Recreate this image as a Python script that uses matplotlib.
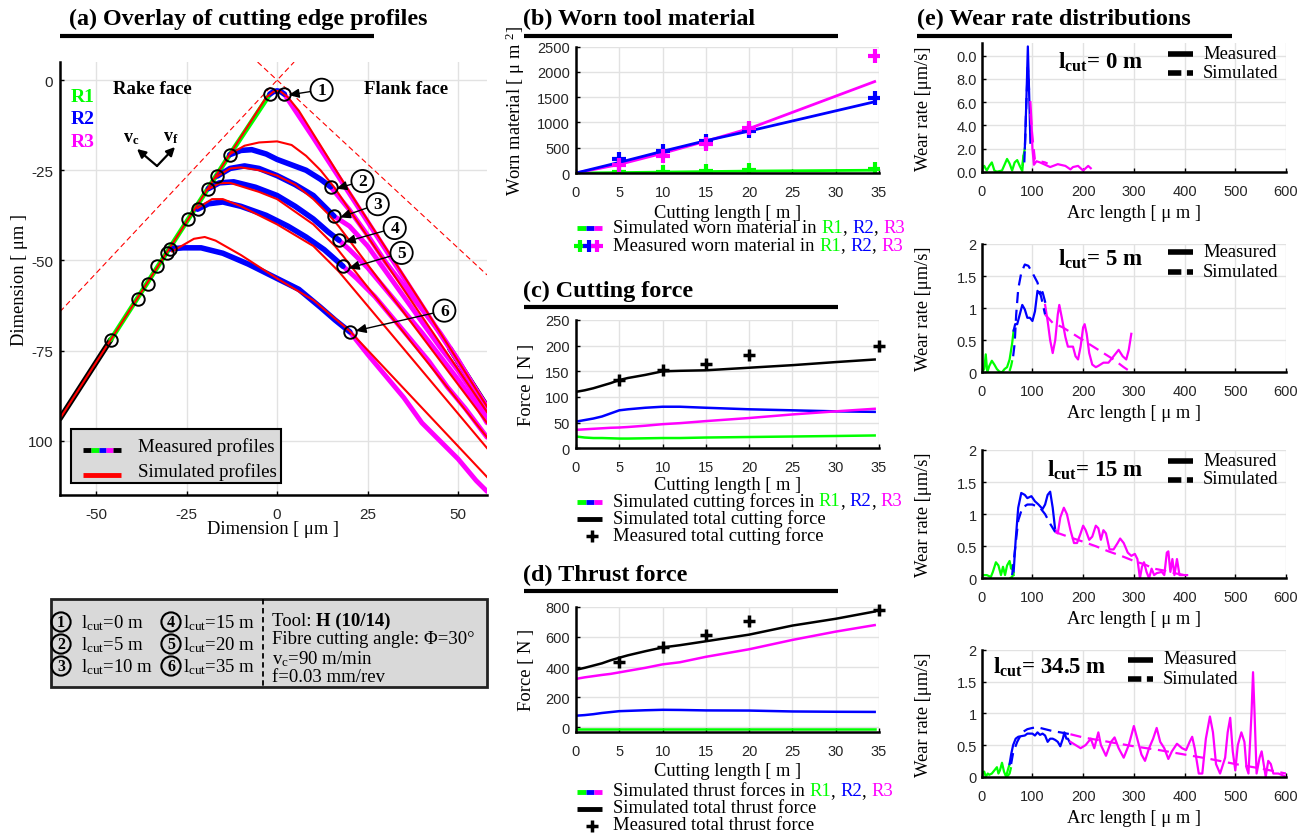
import matplotlib
matplotlib.use('Agg')
import matplotlib.pyplot as plt
from matplotlib.patches import Rectangle

W, H = 1309, 837
SERIF = 'Liberation Serif'
SANS = 'Liberation Sans'
plt.rcParams['font.family'] = SANS
plt.rcParams['axes.unicode_minus'] = False
plt.rcParams['mathtext.fontset'] = 'custom'
plt.rcParams['mathtext.rm'] = SERIF
plt.rcParams['mathtext.it'] = SERIF + ':italic'
plt.rcParams['mathtext.bf'] = SERIF + ':bold'
plt.rcParams['mathtext.default'] = 'regular'

GREEN, BLUE, MAG, RED = '#00ff00', '#0000ff', '#ff00ff', '#ff0000'

# ---------------- (a) profile data [um] ----------------
ref_left_x, ref_left_y = [-60, 4.7], [-64.2, 5]
ref_right_x, ref_right_y = [-5.4, 58], [5, -54]
rake_black_x, rake_black_y = [-60, -46], [-93.8, -72]
rake_green_x, rake_green_y = [-46, -24.6, -13.1, -2], [-72, -38.6, -20.7, -3.9]
flank_black_x, flank_black_y = [48, 58], [-74.8, -90.5]

m1_x, m1_y = [-2, -1, 0, 1, 2], [-3.9, -3.2, -3.0, -3.2, -3.9]
m2_x = [-13.1, -10, -7, -3, 0, 4, 8, 12, 14.8]
m2_y = [-20.7, -19.5, -19.3, -20.5, -22, -23.5, -25, -27.5, -29.6]
m3_x = [-16.5, -13, -9, -5, 0, 5, 10, 13, 15.7]
m3_y = [-26.6, -24.5, -23.8, -24.5, -26.5, -29, -32, -35, -37.7]
m4_x = [-19, -16, -12, -6, 0, 5, 10, 14, 17.1]
m4_y = [-30.1, -28.5, -28.2, -29.7, -32, -35, -38.5, -42, -44.4]
m5_x = [-22, -19, -15, -10, -3, 3, 8, 13, 18.2]
m5_y = [-35.8, -34.3, -33.8, -35, -37.5, -40.5, -43.5, -47, -51.6]
m6_x = [-29.5, -26, -21, -15, -8, 0, 6, 12, 16, 20.1]
m6_y = [-46.8, -46.5, -46.5, -48, -51, -55, -58, -63, -66.5, -69.8]

f1_x = [2, 10, 20, 30, 40, 50, 58]
f1_y = [-3.9, -16, -31.5, -47, -62.5, -78, -90.5]
f2_x = [14.8, 20, 25, 30, 35, 40, 45, 50, 55, 58]
f2_y = [-29.6, -36, -43, -50.5, -57, -63.5, -70, -77.5, -86, -91]
f3_x = [15.7, 20, 25, 30, 35, 40, 45, 50, 55, 58]
f3_y = [-37.7, -40.5, -46, -53, -60, -67, -74, -80.5, -88, -93]
f4_x = [17.1, 20, 25, 30, 35, 40, 45, 50, 55, 58]
f4_y = [-44.4, -47, -52, -58, -64, -70, -76.5, -83, -90, -95]
f5_x = [18.2, 22, 27, 32, 37, 42, 47, 52, 55, 58]
f5_y = [-51.6, -55, -60, -66, -72, -78, -85, -91, -95, -99]
f6_x = [20.1, 25, 30, 35, 40, 45, 50, 55, 58]
f6_y = [-69.8, -76, -82, -88, -95, -100, -105, -111, -114]

s1_x = [-60, -46, -24.6, -6, -3, -1, 0, 1, 3, 6, 20, 40, 58]
s1_y = [-93.8, -72, -38.6, -9.5, -4.8, -3.2, -3, -3.2, -4.8, -8.5, -31, -62, -90.5]
s2_x = [-13, -9, -5, 0, 4, 8, 12, 16, 20, 58]
s2_y = [-20.5, -18.2, -17.3, -17, -18, -21, -25, -30, -36, -92]
s3_x = [-17, -13, -10, -5, 0, 5, 10, 14, 17, 58]
s3_y = [-27, -24.5, -24.2, -25, -26.5, -29, -33, -37, -40.5, -95]
s4_x = [-19.5, -16, -13, -5, 0, 10, 16, 58]
s4_y = [-30.5, -28.6, -28.5, -31, -33, -40, -46, -99]
s5_x = [-22, -18, -15, -10, 0, 10, 17, 58]
s5_y = [-35.5, -33, -33, -35, -40, -46, -53, -102]
s6_x = [-29, -23, -20, -17, -10, 0, 10, 20, 58]
s6_y = [-47.5, -44, -43.5, -44.5, -48.5, -55, -61, -69.5, -110]

circ_x = [-2, 2, -13.1, 14.8, -16.5, 15.7, -19, 17.1, -22, 18.2, -29.5, 20.1,
          -46, -38.5, -35.7, -33.3, -30.5, -24.6]
circ_y = [-3.9, -3.9, -20.7, -29.6, -26.6, -37.7, -30.1, -44.4, -35.8, -51.6, -46.8, -69.8,
          -72, -60.6, -56.4, -51.6, -47.9, -38.6]

stage_labels = ['1', '2', '3', '4', '5', '6']
stage_pt_x = [2.8, 16.0, 17.0, 18.3, 19.4, 21.3]
stage_pt_y = [-4.2, -30.2, -38.2, -45.0, -52.3, -69.6]

# ---------------- (b) worn material ----------------
cut_len_sim = [0, 5, 10, 15, 20, 34.5]
worn_sim_r1 = [0, 8, 18, 28, 38, 55]
worn_sim_r2 = [0, 210, 430, 640, 830, 1410]
worn_sim_r3 = [0, 170, 390, 630, 880, 1810]
cut_len_meas = [5, 10, 15, 20, 34.5]
worn_meas_r1 = [10, 28, 42, 50, 85]
worn_meas_r2 = [285, 440, 635, 840, 1480]
worn_meas_r3 = [150, 335, 580, 895, 2310]

# ---------------- (c) cutting force ----------------
force_len = [0, 1, 2, 3, 4, 5, 6, 8, 10, 12, 15, 20, 25, 30, 34.5]
fc_total = [110, 113, 117, 122, 127, 133, 137, 143, 150, 151, 152, 157, 162, 168, 173]
fc_r1 = [23, 21, 20, 20, 19.5, 19, 19, 19.5, 20, 20, 21, 22, 23, 24, 25]
fc_r2 = [52, 55, 58, 62, 68, 74, 76, 79, 81, 81, 79, 76, 74, 72, 71]
fc_r3 = [36, 37, 38, 39, 40, 40.5, 41.5, 44, 47, 49, 53, 59, 66, 72, 77]
force_meas_len = [5, 10, 15, 20, 35]
fc_meas = [134, 152, 164, 181, 200]

# ---------------- (d) thrust force ----------------
ft_total = [382, 395, 410, 425, 445, 462, 478, 505, 530, 545, 571, 615, 675, 720, 768]
ft_r1 = [-8, -8, -8, -8, -8, -8, -8, -8, -8, -8, -8, -8, -8, -8, -8]
ft_r2 = [78, 82, 88, 96, 102, 108, 110, 114, 117, 116, 113, 112, 106, 104, 103]
ft_r3 = [322, 332, 340, 348, 355, 365, 375, 395, 418, 432, 468, 518, 580, 635, 678]
ft_meas = [431, 533, 611, 707, 778]

# ---------------- (e) wear rate distributions ----------------
e0_g_x = [0, 5, 10, 15, 20, 25, 30, 40, 45, 50, 55, 60, 65, 70, 75, 80, 83, 85]
e0_g_y = [0.2, 0.5, 0.1, 0.5, 0.8, 0.1, 0.0, 0.1, 0.6, 1.1, 0.7, 0.1, 0.8, 1.0, 0.5, 0.05, 1.5, 2.0]
e0_b_x = [85, 88, 91, 94, 96]
e0_b_y = [2.0, 6.0, 10.8, 6.0, 2.5]
e0_m_x = [96, 98, 100, 103, 108, 115, 125, 135, 150, 165, 175, 180, 190, 200, 210, 215]
e0_m_y = [6.0, 4.5, 2.0, 0.6, 0.9, 0.8, 0.6, 0.4, 0.65, 0.5, 0.2, 0.4, 0.5, 0.1, 0.5, 0.3]
e0_gd_x, e0_gd_y = [80, 84], [0.5, 2.0]
e0_bd_x, e0_bd_y = [84, 86, 88, 91, 94], [0.8, 3.0, 6.0, 9.0, 6.5]
e0_md_x = [96, 100, 105, 115, 125, 130]
e0_md_y = [5.0, 3.0, 1.0, 0.9, 0.8, 0.7]

e1_g_x = [0, 5, 8, 11, 15, 20, 25, 30, 35, 40, 45, 50, 55, 60, 63]
e1_g_y = [0, 0.05, 0.28, 0, 0.1, 0.18, 0.12, 0.05, 0.01, 0, 0.05, 0.08, 0.2, 0.45, 0.65]
e1_b_x = [63, 66, 70, 75, 80, 85, 90, 95, 100, 105, 110, 115, 120, 125]
e1_b_y = [0.65, 0.75, 0.75, 0.9, 1.05, 0.98, 0.85, 0.85, 0.8, 0.95, 1.27, 1.22, 1.25, 1.1]
e1_m_x = [125, 130, 135, 140, 145, 150, 153, 158, 165, 170, 180, 185, 190, 195, 200, 203, 207,
          212, 218, 225, 230, 240, 250, 260, 270, 278, 285, 290, 295]
e1_m_y = [1.05, 0.8, 0.5, 0.3, 0.5, 0.9, 1.05, 0.85, 0.55, 0.4, 0.4, 0.25, 0.2, 0.4, 0.7, 0.75, 0.6,
          0.3, 0.12, 0.08, 0.1, 0.15, 0.15, 0.25, 0.35, 0.25, 0.2, 0.35, 0.6]
e1_gd_x, e1_gd_y = [55, 58, 62], [0.02, 0.1, 0.25]
e1_bd_x = [62, 65, 68, 72, 78, 85, 92, 100, 110, 118, 125]
e1_bd_y = [0.25, 0.45, 0.9, 1.3, 1.55, 1.68, 1.66, 1.55, 1.4, 1.15, 0.9]
e1_md_x = [125, 140, 160, 180, 200, 220, 240, 260, 280, 295]
e1_md_y = [0.9, 0.77, 0.7, 0.6, 0.5, 0.4, 0.3, 0.2, 0.08, 0.0]

e2_g_x = [0, 10, 18, 22, 28, 33, 38, 42, 46, 50, 55, 58, 60, 63]
e2_g_y = [0.05, 0.05, 0.02, 0.1, 0.25, 0.2, 0.05, 0.18, 0.05, 0.2, 0.27, 0.15, 0.2, 0.05]
e2_b_x = [63, 67, 72, 78, 85, 90, 98, 105, 112, 120, 125, 130, 135, 140, 145]
e2_b_y = [0.1, 0.6, 1.1, 1.33, 1.3, 1.25, 1.28, 1.2, 1.15, 1.08, 1.15, 1.3, 1.35, 1.1, 0.75]
e2_m_x = [145, 150, 155, 162, 168, 175, 182, 188, 195, 200, 205, 212, 218, 225, 230, 235, 240,
          245, 252, 260, 268, 273, 280, 288, 295, 302, 307, 312, 316, 320, 325, 330, 335, 340,
          345, 355, 360, 365, 368, 372, 376, 380, 385, 390, 395, 405]
e2_m_y = [0.75, 0.7, 0.95, 1.1, 1.0, 0.75, 0.55, 0.55, 0.7, 0.82, 0.75, 0.6, 0.65, 0.82, 0.78, 0.6,
          0.75, 0.7, 0.45, 0.45, 0.55, 0.62, 0.55, 0.4, 0.35, 0.38, 0.3, 0.0, 0.18, 0.25, 0.1, 0.0,
          0.15, 0.05, 0.08, 0.1, 0.05, 0.4, 0.42, 0.1, 0.3, 0.05, 0.3, 0.05, 0.05, 0.05]
e2_gd_x, e2_gd_y = [55, 60, 63], [0.0, 0.02, 0.1]
e2_bd_x = [60, 65, 72, 80, 90, 100, 115, 125, 135, 145]
e2_bd_y = [0.05, 0.4, 0.9, 1.1, 1.15, 1.15, 1.1, 1.0, 0.85, 0.72]
e2_md_x = [145, 170, 200, 225, 250, 275, 300, 320, 340, 360, 380, 400]
e2_md_y = [0.72, 0.65, 0.57, 0.5, 0.42, 0.35, 0.27, 0.22, 0.15, 0.12, 0.08, 0.05]

e3_g_x = [0, 5, 8, 12, 15, 20, 25, 30, 33, 36, 40, 44, 48, 52, 55]
e3_g_y = [0.05, 0.08, 0.0, 0.05, 0.03, 0.05, 0.1, 0.15, 0.05, 0.1, 0.22, 0.08, 0.0, 0.12, 0.2]
e3_b_x = [55, 58, 62, 67, 72, 78, 85, 90, 100, 105, 110, 115, 120, 125, 130, 135, 140, 145,
          150, 155, 160, 163, 167, 170, 175]
e3_b_y = [0.2, 0.35, 0.5, 0.6, 0.63, 0.64, 0.65, 0.68, 0.68, 0.65, 0.7, 0.66, 0.68, 0.65, 0.55,
          0.6, 0.6, 0.58, 0.55, 0.48, 0.6, 0.7, 0.6, 0.6, 0.52]
e3_m_x = [175, 185, 195, 205, 215, 222, 230, 235, 245, 255, 262, 270, 280, 290, 300, 305, 315,
          322, 330, 338, 345, 352, 360, 368, 375, 385, 395, 403, 410, 415, 420, 428, 435, 442,
          450, 456, 462, 470, 480, 485, 490, 495, 500, 505, 512, 518, 522, 526, 532, 535, 538,
          542, 548, 552, 556, 560, 565, 570, 575, 585, 600]
e3_m_y = [0.55, 0.5, 0.45, 0.5, 0.6, 0.45, 0.7, 0.5, 0.33, 0.55, 0.62, 0.45, 0.3, 0.5, 0.8, 0.65,
          0.35, 0.25, 0.45, 0.6, 0.77, 0.55, 0.45, 0.28, 0.4, 0.52, 0.45, 0.42, 0.55, 0.63, 0.45,
          0.05, 0.05, 0.6, 0.95, 0.7, 0.2, 0.05, 0.3, 0.7, 0.93, 0.4, 0.1, 0.5, 0.7, 0.55, 0.15,
          0.05, 1.0, 1.65, 1.0, 0.05, 0.3, 0.4, 0.2, 0.0, 0.25, 0.2, 0.05, 0.05, 0.0]
e3_gd_x, e3_gd_y = [50, 55, 58], [0.0, 0.05, 0.15]
e3_bd_x = [58, 62, 70, 80, 90, 100, 110, 125, 140, 155, 175]
e3_bd_y = [0.2, 0.38, 0.55, 0.7, 0.75, 0.77, 0.78, 0.75, 0.72, 0.7, 0.67]
e3_md_x = [175, 200, 250, 300, 350, 400, 450, 500, 550, 600]
e3_md_y = [0.67, 0.62, 0.55, 0.48, 0.42, 0.35, 0.28, 0.2, 0.13, 0.05]

# ---------------- figure ----------------
fig = plt.figure(figsize=(W / 100, H / 100), dpi=100)


def px_axes(l, t, r, b):
    return fig.add_axes([l / W, 1 - b / H, (r - l) / W, (b - t) / H])


def style(ax):
    for s in ['top', 'right']:
        ax.spines[s].set_visible(False)
    for s in ['left', 'bottom']:
        ax.spines[s].set_linewidth(1.8)
        ax.spines[s].set_color('k')
    ax.grid(True, color='#e2e2e2', lw=1)
    ax.set_axisbelow(True)
    ax.tick_params(direction='in', length=3, width=1, labelsize=10.5, labelcolor='#262626')
    ax.tick_params(axis='x', pad=8.5)
    ax.tick_params(axis='y', pad=4.5)


# ---- (a)
ax_a = px_axes(60, 63, 487, 496)
style(ax_a)
ax_a.plot(ref_left_x, ref_left_y, color=RED, lw=0.8, dashes=(5, 3))
ax_a.plot(ref_right_x, ref_right_y, color=RED, lw=0.8, dashes=(5, 3))
ax_a.plot(rake_black_x, rake_black_y, color='k', lw=4, solid_capstyle='round')
ax_a.plot(flank_black_x, flank_black_y, color='k', lw=4)
for fx, fy in [(f1_x, f1_y), (f2_x, f2_y), (f3_x, f3_y), (f4_x, f4_y), (f5_x, f5_y), (f6_x, f6_y)]:
    ax_a.plot(fx, fy, color=MAG, lw=3.5, solid_capstyle='round')
ax_a.plot(rake_green_x, rake_green_y, color=GREEN, lw=3.5, solid_capstyle='round')
for mx, my in [(m1_x, m1_y), (m2_x, m2_y), (m3_x, m3_y), (m4_x, m4_y), (m5_x, m5_y), (m6_x, m6_y)]:
    ax_a.plot(mx, my, color=BLUE, lw=4, solid_capstyle='round')
for sx, sy in [(s1_x, s1_y), (s2_x, s2_y), (s3_x, s3_y), (s4_x, s4_y), (s5_x, s5_y), (s6_x, s6_y)]:
    ax_a.plot(sx, sy, color=RED, lw=1.5)
ax_a.plot(circ_x, circ_y, 'o', mfc='none', mec='k', ms=9, mew=1.4)
ax_a.set_xlim(-60, 58)
ax_a.set_ylim(-115, 5)
ax_a.set_xticks([-50, -25, 0, 25, 50])
ax_a.set_yticks([-100, -75, -50, -25, 0])
ax_a.set_yticklabels(['100', '-75', '-50', '-25', '0'])
ax_a.tick_params(labelsize=11)
ax_a.tick_params(axis='y', pad=5)

lab_off = [(9.5, 1.5), (7.6, 2.2), (10.8, 3.8), (14.2, 4.0), (15.0, 4.4), (24.9, 5.7)]
for lab, px_, py_, (dx, dy) in zip(stage_labels, stage_pt_x, stage_pt_y, lab_off):
    ax_a.annotate(lab, xy=(px_, py_), xytext=(px_ + dx, py_ + dy), ha='center', va='center',
                  fontsize=12.5, fontweight='bold', fontfamily=SERIF,
                  bbox=dict(boxstyle='circle,pad=0.18', fc='white', ec='k', lw=1.3),
                  arrowprops=dict(arrowstyle='-|>,head_length=0.5,head_width=0.22', color='k',
                                  lw=1.0, shrinkA=0, shrinkB=1))

# ---- (b)
ax_b = px_axes(576, 47.7, 879, 174)
style(ax_b)
ax_b.plot(cut_len_sim, worn_sim_r1, color=GREEN, lw=2)
ax_b.plot(cut_len_sim, worn_sim_r3, color=MAG, lw=2)
ax_b.plot(cut_len_sim, worn_sim_r2, color=BLUE, lw=2)
ax_b.plot(cut_len_meas, worn_meas_r1, '+', color=GREEN, ms=10, mew=3)
ax_b.plot(cut_len_meas, worn_meas_r2, '+', color=BLUE, ms=10, mew=3)
ax_b.plot(cut_len_meas, worn_meas_r3, '+', color=MAG, ms=10, mew=3)
ax_b.set_xlim(0, 35)
ax_b.set_ylim(0, 2500)
ax_b.set_xticks(range(0, 36, 5))
ax_b.set_yticks(range(0, 2501, 500))

# ---- (c)
ax_c = px_axes(576, 321, 879, 449.3)
style(ax_c)
ax_c.plot(force_len, fc_r1, color=GREEN, lw=1.8)
ax_c.plot(force_len, fc_r2, color=BLUE, lw=1.8)
ax_c.plot(force_len, fc_r3, color=MAG, lw=1.8)
ax_c.plot(force_len, fc_total, color='k', lw=1.8)
ax_c.plot(force_meas_len, fc_meas, '+', color='k', ms=9, mew=2.5, clip_on=False)
ax_c.set_xlim(0, 35)
ax_c.set_ylim(0, 250)
ax_c.set_xticks(range(0, 36, 5))
ax_c.set_yticks(range(0, 251, 50))

# ---- (d)
ax_d = px_axes(576, 607.7, 879, 733)
style(ax_d)
ax_d.plot(force_len, ft_r1, color=GREEN, lw=1.8)
ax_d.plot(force_len, ft_r2, color=BLUE, lw=1.8)
ax_d.plot(force_len, ft_r3, color=MAG, lw=1.8)
ax_d.plot(force_len, ft_total, color='k', lw=1.8)
ax_d.plot(force_meas_len, ft_meas, '+', color='k', ms=9, mew=2.5, clip_on=False)
ax_d.set_xlim(0, 35)
ax_d.set_ylim(-30, 800)
ax_d.set_xticks(range(0, 36, 5))
ax_d.set_yticks(range(0, 801, 200))

# ---- (e)
e_boxes = [(44.3, 172.7), (245, 373.3), (451, 579.3), (651, 777.7)]
e_data = [
    (e0_g_x, e0_g_y, e0_b_x, e0_b_y, e0_m_x, e0_m_y, e0_gd_x, e0_gd_y, e0_bd_x, e0_bd_y, e0_md_x, e0_md_y),
    (e1_g_x, e1_g_y, e1_b_x, e1_b_y, e1_m_x, e1_m_y, e1_gd_x, e1_gd_y, e1_bd_x, e1_bd_y, e1_md_x, e1_md_y),
    (e2_g_x, e2_g_y, e2_b_x, e2_b_y, e2_m_x, e2_m_y, e2_gd_x, e2_gd_y, e2_bd_x, e2_bd_y, e2_md_x, e2_md_y),
    (e3_g_x, e3_g_y, e3_b_x, e3_b_y, e3_m_x, e3_m_y, e3_gd_x, e3_gd_y, e3_bd_x, e3_bd_y, e3_md_x, e3_md_y),
]
e_axes = []
for i, ((t, b), d) in enumerate(zip(e_boxes, e_data)):
    ax = px_axes(981.7, t, 1286, b)
    style(ax)
    gx, gy, bx, by, mx, my, gdx, gdy, bdx, bdy, mdx, mdy = d
    ax.plot(gx, gy, color=GREEN, lw=1.6)
    ax.plot(bx, by, color=BLUE, lw=1.6)
    ax.plot(mx, my, color=MAG, lw=1.6)
    ax.plot(gdx, gdy, color=GREEN, lw=1.6, dashes=(5, 3))
    ax.plot(bdx, bdy, color=BLUE, lw=1.6, dashes=(5, 3))
    ax.plot(mdx, mdy, color=MAG, lw=1.6, dashes=(5, 3))
    ax.set_xlim(0, 600)
    ax.set_xticks(range(0, 601, 100))
    if i == 0:
        ax.set_ylim(0, 11.07)
        ax.set_yticks([0, 2, 4, 6, 8, 10])
        ax.set_yticklabels(['0.0', '2.0', '4.0', '6.0', '8.0', '0.0'])
    else:
        ax.set_ylim(0, 2)
        ax.set_yticks([0, 0.5, 1, 1.5, 2])
        ax.set_yticklabels(['0', '0.5', '1', '1.5', '2'])
    ax.tick_params(axis='y', pad=3.5)
    e_axes.append(ax)

# ---------------- overlay for text / layout in pixels ----------------
ov = fig.add_axes([0, 0, 1, 1])
ov.set_xlim(0, W)
ov.set_ylim(H, 0)
ov.axis('off')
ov.set_zorder(20)
R = fig.canvas.get_renderer()


def tw(s, **kw):
    t = ov.text(0, 0, s, **kw)
    w = t.get_window_extent(renderer=R).width
    t.remove()
    return w


def rich(x0, y, parts, **kw):
    prefix = ''
    for s, c in parts:
        x = x0 + (tw(prefix + s, **kw) - tw(s, **kw) if prefix else 0)
        ov.text(x, y, s, color=c, **kw)
        prefix += s


TKW = dict(fontfamily=SERIF, fontweight='bold', fontsize=17.4, va='center', ha='left')
for x, y, s, x1, x2, yl in [
        (69, 19, '(a) Overlay of cutting edge profiles', 60, 374, 37),
        (523, 19, '(b) Worn tool material', 524, 838, 37),
        (523, 291, '(c) Cutting force', 524, 838, 308),
        (523, 575, '(d) Thrust force', 524, 838, 592),
        (917, 19, '(e) Wear rate distributions', 917, 1232, 37)]:
    ov.text(x, y, s, **TKW)
    ov.plot([x1, x2], [yl, yl], color='k', lw=3, solid_capstyle='butt')

LKW = dict(fontfamily=SERIF, fontsize=13.3, va='center', ha='center')
# axis labels
ov.text(273, 529, 'Dimension [ μm ]', **LKW)
ov.text(20, 280, 'Dimension [ μm ]', rotation=90, **LKW)
ov.text(727.5, 213, 'Cutting length [ m ]', **LKW)
ov.text(515, 111, 'Worn material [ μ m $^{2}$]', rotation=90, **LKW)
ov.text(727.5, 485, 'Cutting length [ m ]', **LKW)
ov.text(527, 385, 'Force [ N ]', rotation=90, **LKW)
ov.text(727.5, 772, 'Cutting length [ m ]', **LKW)
ov.text(527, 670, 'Force [ N ]', rotation=90, **LKW)
for (t, b), xl_y in zip(e_boxes, [213, 413, 619, 819]):
    ov.text(1134, xl_y, 'Arc length [ μ m ]', **LKW)
    ov.text(923, (t + b) / 2, 'Wear rate [μm/s]', rotation=90, **LKW)

# (a) inner annotations
AKW = dict(fontfamily=SERIF, fontweight='bold', fontsize=14, va='center', ha='left')
ov.text(71, 97, 'R1', color=GREEN, **AKW)
ov.text(71, 119, 'R2', color=BLUE, **AKW)
ov.text(71, 142, 'R3', color=MAG, **AKW)
ov.text(152, 89, 'Rake face', **{**AKW, 'ha': 'center', 'fontsize': 13.5})
ov.text(406, 89, 'Flank face', **{**AKW, 'ha': 'center', 'fontsize': 13.5})
ov.annotate('', xy=(137, 150), xytext=(157, 167),
            arrowprops=dict(arrowstyle='-|>,head_length=0.5,head_width=0.25', color='k', lw=1.6,
                            shrinkA=0, shrinkB=0))
ov.annotate('', xy=(175, 148), xytext=(157, 167),
            arrowprops=dict(arrowstyle='-|>,head_length=0.5,head_width=0.25', color='k', lw=1.6,
                            shrinkA=0, shrinkB=0))
ov.text(131, 138, r'v$_{\mathbf{c}}$', **{**AKW, 'ha': 'center', 'fontsize': 13})
ov.text(171, 137, r'v$_{\mathbf{f}}$', **{**AKW, 'ha': 'center', 'fontsize': 13})

# (a) legend
ov.add_patch(Rectangle((71, 430), 210, 54, fc='#dadada', ec='k', lw=1.5, zorder=5))
for x1, x2, c in [(83, 91, 'k'), (91, 99, GREEN), (99, 106, BLUE), (106, 113, MAG), (113, 121, 'k')]:
    ov.plot([x1, x2], [451, 451], color=c, lw=3.5, solid_capstyle='butt', zorder=6)
ov.plot([83, 121], [476, 476], color=RED, lw=3.5, solid_capstyle='butt', zorder=6)
ov.text(138, 447, 'Measured profiles', fontfamily=SERIF, fontsize=13.6, va='center', zorder=6)
ov.text(138, 472, 'Simulated profiles', fontfamily=SERIF, fontsize=13.6, va='center', zorder=6)

# (a) info box
ov.add_patch(Rectangle((51, 600), 436, 88, fc='#d9d9d9', ec='#222222', lw=2, zorder=5))
ov.plot([263, 263], [600, 688], color='k', lw=1.3, dashes=(3, 2), zorder=6)
BKW = dict(fontfamily=SERIF, fontsize=13.5, va='center', ha='left', zorder=6)
CKW = dict(fontfamily=SERIF, fontsize=11.5, fontweight='bold', va='center', ha='center', zorder=7,
           bbox=dict(boxstyle='circle,pad=0.1', fc='none', ec='k', lw=1.5))
rows_y = [623, 645, 667]
for k, y in enumerate(rows_y):
    ov.text(61, y, stage_labels[k], **CKW)
    ov.text(171, y, stage_labels[k + 3], **CKW)
for y, s in zip(rows_y, [r'l$_{cut}$=0 m', r'l$_{cut}$=5 m', r'l$_{cut}$=10 m']):
    ov.text(81, y, s, **BKW)
for y, s in zip(rows_y, [r'l$_{cut}$=15 m', r'l$_{cut}$=20 m', r'l$_{cut}$=35 m']):
    ov.text(183, y, s, **BKW)
ov.text(272, 621, 'Tool: ', **BKW)
ov.text(272 + tw('Tool: x', **BKW) - tw('x', **BKW), 621, 'H (10/14)', fontweight='bold', **BKW)
ov.text(272, 640, 'Fibre cutting angle: Φ=30°', **BKW)
ov.text(272, 659, r'v$_{c}$=90 m/min', **BKW)
ov.text(272, 678, 'f=0.03 mm/rev', **BKW)

# (b)(c)(d) legends
GKW = dict(fontfamily=SERIF, fontsize=13.4, va='center', ha='left')


def tri_handle(y):
    for x1, x2, c in [(577, 586, GREEN), (586, 594, BLUE), (594, 602, MAG)]:
        ov.plot([x1, x2], [y, y], color=c, lw=3.5, solid_capstyle='butt')


tri_handle(229)
rich(613, 228, [('Simulated worn material in ', 'k'), ('R1', GREEN), (', ', 'k'), ('R2', BLUE),
                (', ', 'k'), ('R3', MAG)], **GKW)
for x, c in [(580, GREEN), (588.5, BLUE), (597, MAG)]:
    ov.plot([x], [247], '+', color=c, ms=9, mew=3)
rich(613, 246, [('Measured worn material in ', 'k'), ('R1', GREEN), (', ', 'k'), ('R2', BLUE),
                (', ', 'k'), ('R3', MAG)], **GKW)

for y0, word in [(503, 'cutting'), (793, 'thrust')]:
    tri_handle(y0)
    rich(613, y0 - 1, [('Simulated %s forces in ' % word, 'k'), ('R1', GREEN), (', ', 'k'),
                       ('R2', BLUE), (', ', 'k'), ('R3', MAG)], **GKW)
    ov.plot([577, 602], [y0 + 17, y0 + 17], color='k', lw=3.5, solid_capstyle='butt')
    ov.text(613, y0 + 16, 'Simulated total %s force' % word, **GKW)
    ov.plot([592], [y0 + 34], '+', color='k', ms=8, mew=2.5)
    ov.text(613, y0 + 33, 'Measured total %s force' % word, **GKW)

# (e) annotations
EKW = dict(fontfamily=SERIF, fontweight='bold', fontsize=16.5, va='center', ha='left')
e_titles = [(1058, 62, r'l$_{\mathbf{cut}}$= 0 m'), (1058, 259, r'l$_{\mathbf{cut}}$= 5 m'),
            (1047, 470, r'l$_{\mathbf{cut}}$= 15 m'), (993, 667, r'l$_{\mathbf{cut}}$= 34.5 m')]
for x, y, s in e_titles:
    ov.text(x, y, s, **EKW)
e_leg = [(1168, 1193, 1203, 55, 74), (1168, 1193, 1203, 253, 273),
         (1168, 1193, 1203, 462, 481), (1128, 1153, 1163, 661, 680)]
for x1, x2, xt, y1, y2 in e_leg:
    ov.plot([x1, x2], [y1, y1], color='k', lw=4, solid_capstyle='butt')
    ov.plot([x1, x2], [y2, y2], color='k', lw=4, dashes=(2.4, 1.0), solid_capstyle='butt',
            dash_capstyle='butt')
    ov.text(xt, y1 - 1, 'Measured', **GKW)
    ov.text(xt, y2 - 1, 'Simulated', **GKW)

fig.savefig('out.png', dpi=100)
